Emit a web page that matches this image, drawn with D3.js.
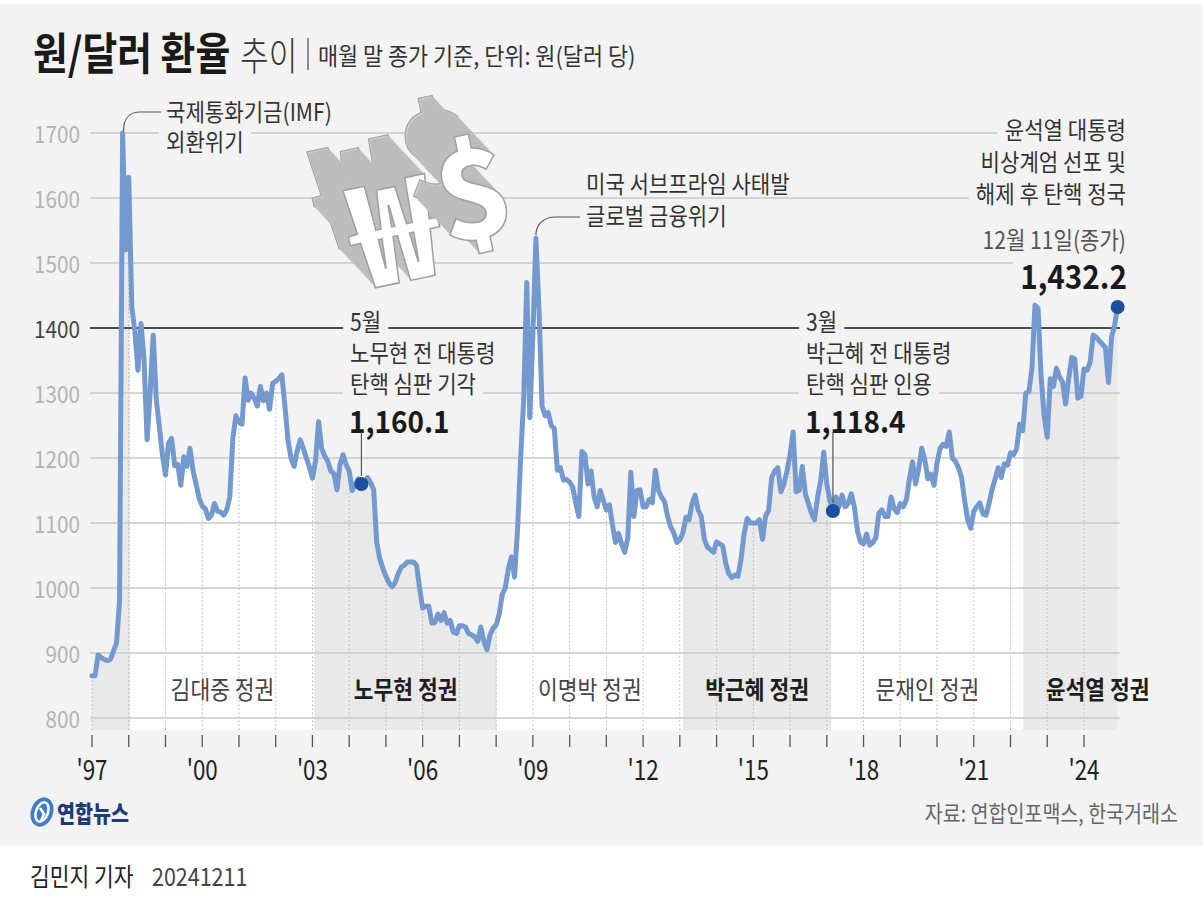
<!DOCTYPE html>
<html>
<head>
<meta charset="utf-8">
<script src="https://cdn.jsdelivr.net/npm/d3@7"></script>
<style>
html, body { margin: 0; padding: 0; background: #fff; }
svg { display: block; font-family: "Noto Sans CJK KR", "Noto Sans", sans-serif; }
</style>
</head>
<body>
<svg id="chart" width="1203" height="905"></svg>
<script>
// monthly closing rate (won per dollar), Jan..Dec
const rate1997 = [865, 865, 897, 893, 890, 888, 890, 903, 915, 980, 1700, 1520];
const rate1998 = [1632, 1432, 1395, 1335, 1407, 1350, 1228, 1300, 1389, 1290, 1248, 1205];
const rate1999 = [1174, 1223, 1230, 1188, 1190, 1158, 1202, 1187, 1215, 1180, 1160, 1138];
const rate2000 = [1126, 1122, 1107, 1112, 1130, 1118, 1117, 1112, 1120, 1140, 1230, 1265];
const rate2001 = [1255, 1252, 1323, 1289, 1300, 1292, 1280, 1310, 1288, 1300, 1275, 1315];
const rate2002 = [1318, 1322, 1328, 1280, 1228, 1200, 1187, 1210, 1228, 1215, 1200, 1186];
const rate2003 = [1169, 1195, 1256, 1215, 1203, 1195, 1180, 1176, 1151, 1190, 1205, 1190];
const rate2004 = [1180, 1150, 1160, 1168, 1160.1, 1158, 1170, 1162, 1151, 1070, 1045, 1030];
const rate2005 = [1018, 1008, 1002, 1008, 1022, 1032, 1035, 1040, 1040, 1040, 1035, 1000];
const rate2006 = [969, 972, 972, 946, 947, 960, 950, 962, 946, 950, 932, 930];
const rate2007 = [942, 942, 940, 930, 928, 925, 918, 940, 918, 905, 928, 938];
const rate2008 = [943, 960, 990, 1000, 1030, 1048, 1017, 1090, 1200, 1290, 1470, 1262];
const rate2009 = [1390, 1538, 1428, 1280, 1265, 1270, 1250, 1245, 1181, 1185, 1166, 1167];
const rate2010 = [1163, 1155, 1131, 1110, 1210, 1205, 1160, 1180, 1140, 1125, 1150, 1135];
const rate2011 = [1120, 1128, 1097, 1070, 1084, 1067, 1055, 1077, 1178, 1110, 1150, 1151];
const rate2012 = [1125, 1125, 1136, 1131, 1181, 1150, 1140, 1133, 1110, 1094, 1085, 1070];
const rate2013 = [1074, 1085, 1109, 1105, 1130, 1143, 1120, 1110, 1075, 1063, 1059, 1055];
const rate2014 = [1071, 1068, 1065, 1038, 1022, 1016, 1020, 1018, 1045, 1084, 1107, 1100];
const rate2015 = [1100, 1100, 1105, 1075, 1110, 1120, 1170, 1180, 1185, 1148, 1160, 1180];
const rate2016 = [1205, 1240, 1148, 1150, 1187, 1145, 1130, 1115, 1105, 1140, 1165, 1209];
const rate2017 = [1160, 1135, 1118.4, 1140, 1125, 1143, 1125, 1130, 1145, 1125, 1088, 1071];
const rate2018 = [1068, 1083, 1066, 1070, 1077, 1115, 1120, 1110, 1110, 1140, 1122, 1116];
const rate2019 = [1130, 1125, 1136, 1168, 1194, 1160, 1183, 1215, 1198, 1168, 1175, 1158];
const rate2020 = [1192, 1215, 1221, 1218, 1240, 1200, 1195, 1185, 1170, 1135, 1105, 1092];
const rate2021 = [1118, 1125, 1131, 1114, 1112, 1130, 1152, 1168, 1185, 1170, 1191, 1189];
const rate2022 = [1208, 1205, 1214, 1252, 1242, 1300, 1302, 1338, 1435, 1430, 1325, 1264];
const rate2023 = [1232, 1322, 1310, 1338, 1325, 1317, 1283, 1322, 1355, 1352, 1292, 1295];
const rate2024 = [1337, 1335, 1347, 1389, 1386, 1380, 1375, 1370, 1316, 1386, 1404, 1432.2];

const startYear = 1997;
const endYear = 2024;
const yTicks = [800, 900, 1000, 1100, 1200, 1300, 1400, 1500, 1600, 1700];
const xLabelYears = [1997, 2000, 2003, 2006, 2009, 2012, 2015, 2018, 2021, 2024];

// administrations, in month index from Jan 1997
const regimeNames = ['', '김대중 정권', '노무현 정권', '이명박 정권', '박근혜 정권', '문재인 정권', '윤석열 정권'];
const regimeStart = [0, 12.5, 72.7, 132.2, 193, 241.5, 304.2];
const regimeEnd = [12.5, 72.7, 132.2, 193, 241.5, 304.2, 335];
const regimeShaded = [true, false, true, false, true, false, true];

// marked points (month index)
const markMonths = [88, 242, 335];
const markLabels = ['1,160.1', '1,118.4', '1,432.2'];

const rates = [].concat(rate1997, rate1998, rate1999, rate2000, rate2001, rate2002, rate2003,
    rate2004, rate2005, rate2006, rate2007, rate2008, rate2009, rate2010, rate2011, rate2012,
    rate2013, rate2014, rate2015, rate2016, rate2017, rate2018, rate2019, rate2020, rate2021,
    rate2022, rate2023, rate2024);
const data = rates.map((v, i) => ({m: i, v: v}));

const BG = '#f3f3f3';
const svg = d3.select('#chart');

const scaleX = d3.scaleLinear()
    .domain([0, (endYear - startYear + 1) * 12])
    .range([92, 92 + (endYear - startYear + 1) * 36.74]);
const scaleY = d3.scaleLinear()
    .domain([800, 1700])
    .range([718, 133]);
const bottomY = scaleY(800) + 12;
const gridL = 90, gridR = 1120;

// condensed text helper: y is the vertical centre
function txt(parent, x, y, s, o = {}) {
    const g = parent.append('g')
        .attr('transform', `translate(${x},${y}) scale(${o.sx || 0.86},1)`);
    const t = g.append('text')
        .attr('font-size', o.size || 24)
        .attr('font-weight', o.weight || 400)
        .attr('fill', o.fill || '#333')
        .attr('text-anchor', o.anchor || 'start')
        .attr('dominant-baseline', 'central')
        .text(s);
    if (o.bg) {
        const b = t.node().getBBox();
        g.insert('rect', 'text')
            .attr('x', b.x - 8).attr('y', b.y + 5)
            .attr('width', b.width + 16).attr('height', b.height - 10)
            .attr('fill', BG);
    }
    return t;
}

// background
svg.append('rect').attr('x', 0).attr('y', 4).attr('width', 1203).attr('height', 842).attr('fill', BG);

// title
txt(svg, 33, 51, '원/달러 환율', {size: 44, weight: 700, fill: '#1a1a1a', sx: 0.86});
txt(svg, 240, 53, '추이', {size: 39, weight: 300, fill: '#333', sx: 0.8});
svg.append('line').attr('x1', 308).attr('x2', 308).attr('y1', 38).attr('y2', 70)
    .attr('stroke', '#555').attr('stroke-width', 1.3);
txt(svg, 318, 55, '매월 말 종가 기준, 단위: 원(달러 당)', {size: 24, fill: '#333', sx: 0.91});

// ₩$ illustration: stacked copies give an extruded look
function extruded(ch, cx, cy, size, rot) {
    const g = svg.append('g').attr('transform', `translate(${cx},${cy}) rotate(${rot})`);
    const n = 26;
    for (let i = n; i >= 1; i--) {
        g.append('text')
            .attr('x', -i * 1.05).attr('y', -i * 1.75)
            .attr('text-anchor', 'middle').attr('dominant-baseline', 'central')
            .attr('font-size', size).attr('font-weight', 900)
            .attr('fill', i === n ? '#d2d2d2' : '#bdbdbd')
            .attr('stroke', i === n ? '#a5a5a5' : 'none')
            .attr('stroke-width', 1.2)
            .text(ch);
    }
    g.append('text')
        .attr('text-anchor', 'middle').attr('dominant-baseline', 'central')
        .attr('font-size', size).attr('font-weight', 900)
        .attr('fill', '#fff').attr('stroke', '#a0a0a0').attr('stroke-width', 1.5)
        .text(ch);
}

// grid lines group (raised later)
const gridG = svg.append('g');

// regime area fills
const area = d3.area()
    .x(d => scaleX(d.m))
    .y0(bottomY)
    .y1(d => scaleY(d.v));
const defs = svg.append('defs');
regimeNames.forEach((n, i) => {
    const id = 'clip' + i;
    defs.append('clipPath').attr('id', id)
        .append('rect')
        .attr('x', scaleX(regimeStart[i])).attr('y', 0)
        .attr('width', scaleX(regimeEnd[i]) - scaleX(regimeStart[i]) + (i === regimeNames.length - 1 ? 2 : 0))
        .attr('height', 905);
    svg.append('path')
        .datum(data)
        .attr('clip-path', `url(#${id})`)
        .attr('d', area)
        .attr('fill', regimeShaded[i] ? '#e9e9e9' : '#ffffff');
});

// year dotted lines
const years = d3.range(startYear, endYear + 1);
svg.append('g').selectAll('line')
    .data(years)
    .join('line')
    .attr('x1', d => scaleX((d - startYear) * 12))
    .attr('x2', d => scaleX((d - startYear) * 12))
    .attr('y1', bottomY)
    .attr('y2', d => scaleY(rates[(d - startYear) * 12]))
    .attr('stroke', '#b5b5b5')
    .attr('stroke-width', 1)
    .attr('stroke-dasharray', '1.5,2.5');

gridG.raise();
gridG.selectAll('line')
    .data(yTicks)
    .join('line')
    .attr('x1', gridL).attr('x2', gridR)
    .attr('y1', d => scaleY(d)).attr('y2', d => scaleY(d))
    .attr('stroke', d => d === 1400 ? '#4d4d4d' : '#c9c9c9')
    .attr('stroke-width', d => d === 1400 ? 1.8 : 1.3);

// y labels
yTicks.forEach(t => {
    txt(svg, 80, scaleY(t), String(t), {size: 23, anchor: 'end', fill: t === 1400 ? '#444' : '#b3b3b3', sx: 0.9});
});

// x axis ticks and labels
svg.append('g').selectAll('line')
    .data(years)
    .join('line')
    .attr('x1', d => scaleX((d - startYear) * 12))
    .attr('x2', d => scaleX((d - startYear) * 12))
    .attr('y1', 735).attr('y2', 747)
    .attr('stroke', '#555').attr('stroke-width', 1.3);
xLabelYears.forEach(yr => {
    txt(svg, scaleX((yr - startYear) * 12), 768, "'" + String(yr).slice(2),
        {size: 28, anchor: 'middle', fill: '#222', sx: 0.8});
});

// regime labels
regimeNames.forEach((n, i) => {
    if (!n) return;
    let cx = scaleX((regimeStart[i] + regimeEnd[i]) / 2);
    if (i === regimeNames.length - 1) cx = scaleX(regimeEnd[i]) - 20;
    txt(svg, cx, 688, n, {size: 25, anchor: 'middle', weight: regimeShaded[i] ? 700 : 400,
        fill: regimeShaded[i] ? '#1e1e1e' : '#444', sx: 0.86});
});

// ₩$ graphic
extruded('₩', 392, 222, 140, -12);
extruded('$', 472, 185, 122, -12);

// annotations (text with background to break grid lines)
const ann = svg.append('g');
const lead = svg.append('g').attr('fill', 'none').attr('stroke', '#555').attr('stroke-width', 1.2);

// IMF
txt(ann, 166, 111, '국제통화기금(IMF)', {size: 24, bg: true, sx: 0.88});
txt(ann, 166, 141, '외환위기', {size: 24, bg: true, sx: 0.88});
const imfM = rates.indexOf(d3.max(rate1997));
lead.append('path')
    .attr('d', `M${scaleX(imfM) + 1},${scaleY(rates[imfM]) - 2} C${scaleX(imfM) + 1},118 ${scaleX(imfM) + 6},112 ${scaleX(imfM) + 18},112 L161,112`);

// subprime
txt(ann, 586, 183, '미국 서브프라임 사태발', {size: 24, bg: true, sx: 0.88});
txt(ann, 586, 215, '글로벌 금융위기', {size: 24, bg: true, sx: 0.88});
const gfcM = rates.indexOf(d3.max(rate2009));
lead.append('path')
    .attr('d', `M${scaleX(gfcM)},${scaleY(rates[gfcM]) - 3} C${scaleX(gfcM)},226 ${scaleX(gfcM) + 6},217 ${scaleX(gfcM) + 20},217 L580,217`);

// Roh
txt(ann, 350, 321, '5월', {size: 24, bg: true, sx: 0.88});
txt(ann, 350, 352, '노무현 전 대통령', {size: 24, bg: true, sx: 0.88});
txt(ann, 350, 383, '탄핵 심판 기각', {size: 24, bg: true, sx: 0.88});
txt(ann, 349, 419, markLabels[0], {size: 31, weight: 700, fill: '#1a1a1a', bg: true, sx: 0.9});

// Park
txt(ann, 806, 321, '3월', {size: 24, bg: true, sx: 0.88});
txt(ann, 806, 352, '박근혜 전 대통령', {size: 24, bg: true, sx: 0.88});
txt(ann, 806, 383, '탄핵 심판 인용', {size: 24, bg: true, sx: 0.88});
txt(ann, 805, 419, markLabels[1], {size: 31, weight: 700, fill: '#1a1a1a', bg: true, sx: 0.9});

// Yoon
txt(ann, 1126, 129, '윤석열 대통령', {size: 24, anchor: 'end', bg: true, sx: 0.88});
txt(ann, 1126, 161, '비상계엄 선포 및', {size: 24, anchor: 'end', bg: true, sx: 0.88});
txt(ann, 1126, 193, '해제 후 탄핵 정국', {size: 24, anchor: 'end', bg: true, sx: 0.88});
txt(ann, 1126, 239, '12월 11일(종가)', {size: 24, anchor: 'end', fill: '#555', bg: true, sx: 0.88});
txt(ann, 1127, 275, markLabels[2], {size: 33, weight: 700, anchor: 'end', fill: '#1a1a1a', bg: true, sx: 0.9});

// leader lines to Roh / Park dots
[0, 1].forEach(i => {
    const m = markMonths[i];
    lead.append('line')
        .attr('x1', scaleX(m)).attr('x2', scaleX(m))
        .attr('y1', 432).attr('y2', scaleY(rates[m]) - 8);
});

// data line
svg.append('path')
    .datum(data)
    .attr('d', d3.line().x(d => scaleX(d.m)).y(d => scaleY(d.v)))
    .attr('fill', 'none')
    .attr('stroke', '#7399cf')
    .attr('stroke-width', 5)
    .attr('stroke-linejoin', 'round')
    .attr('stroke-linecap', 'round');

lead.raise();

// marked dots
svg.append('g').selectAll('circle')
    .data(markMonths)
    .join('circle')
    .attr('cx', d => scaleX(d))
    .attr('cy', d => scaleY(rates[d]))
    .attr('r', 7)
    .attr('fill', '#1b4f9f');

// logo
const logo = svg.append('g').attr('transform', 'translate(42,812)');
logo.append('ellipse').attr('rx', 11).attr('ry', 15).attr('transform', 'rotate(20)')
    .attr('fill', '#3d7fc4');
logo.append('ellipse').attr('rx', 6).attr('ry', 10).attr('transform', 'rotate(20)')
    .attr('fill', 'none').attr('stroke', '#fff').attr('stroke-width', 2.5);
logo.append('path').attr('d', 'M-2,-4 L2,2 L-1,9').attr('stroke', '#fff').attr('stroke-width', 2.5).attr('fill', 'none');
txt(svg, 57, 812, '연합뉴스', {size: 23, weight: 900, fill: '#1d3d7a', sx: 0.85});

// source
txt(svg, 1178, 812, '자료: 연합인포맥스, 한국거래소', {size: 23, anchor: 'end', fill: '#666', sx: 0.85});

// footer
txt(svg, 30, 875, '김민지 기자', {size: 25, fill: '#222', sx: 0.86});
txt(svg, 152, 875, '20241211', {size: 25, fill: '#444', sx: 0.86});
</script>
</body>
</html>
